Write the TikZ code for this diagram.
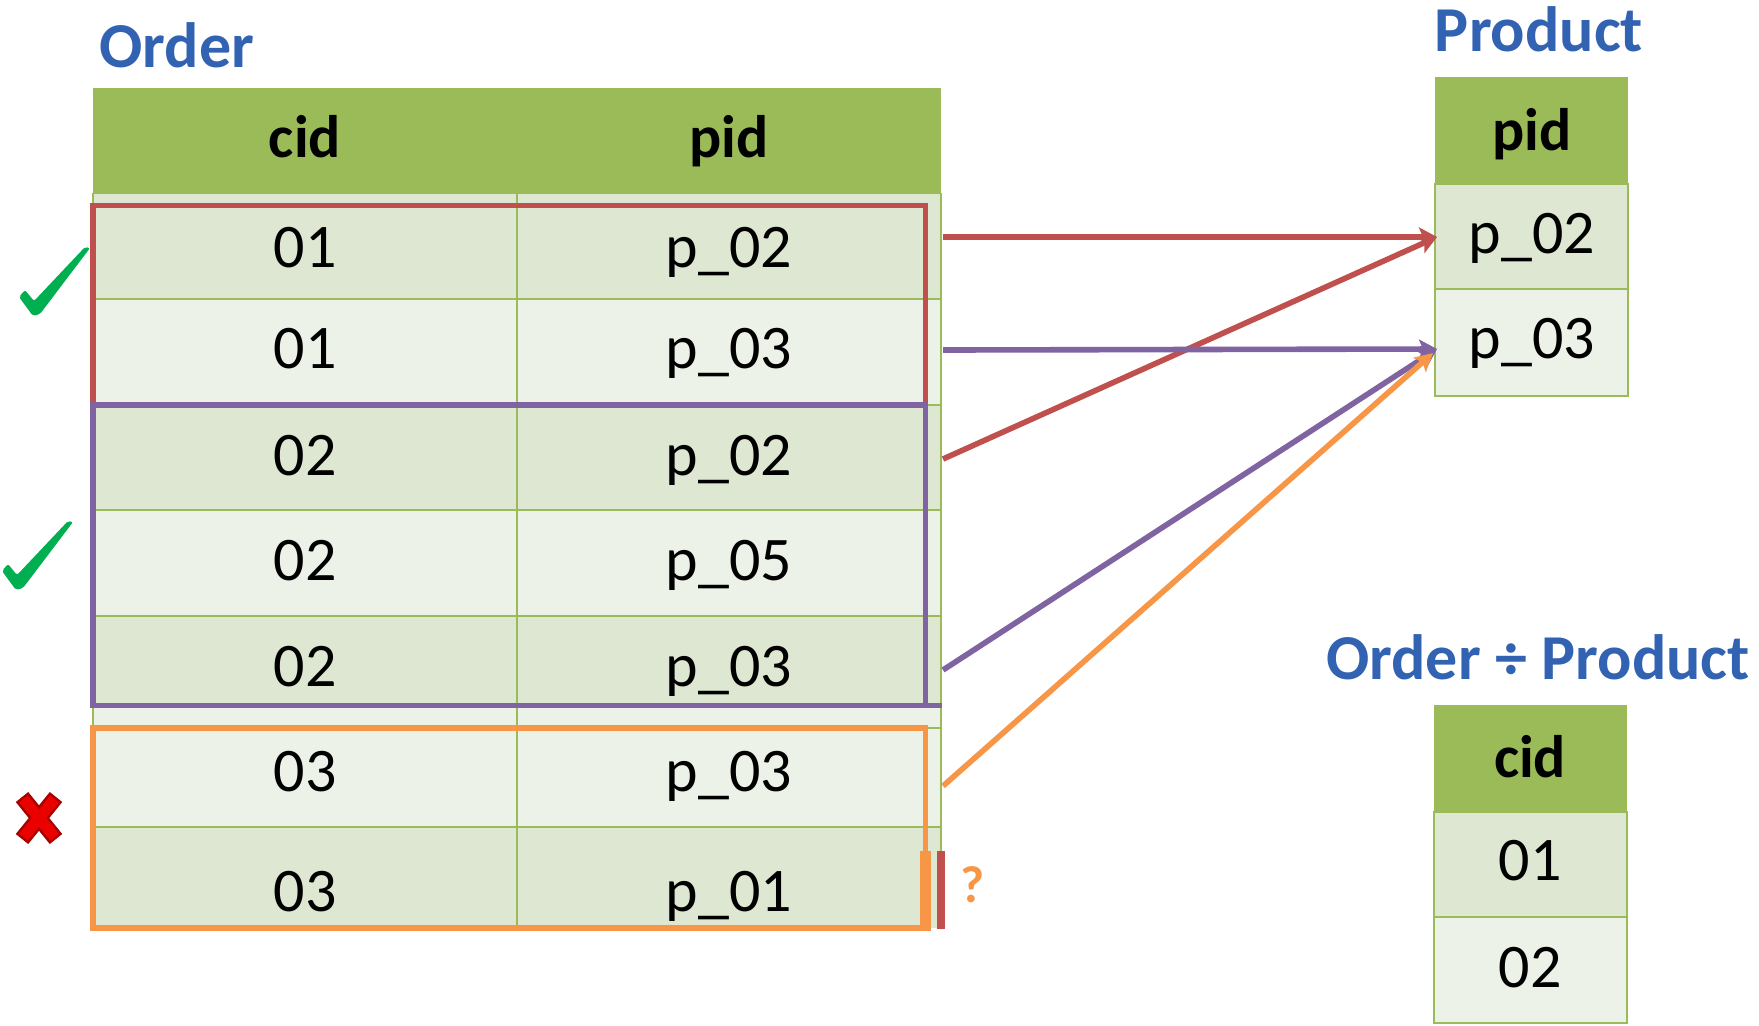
\documentclass[tikz,border=0pt]{standalone}
\usepackage{fontspec}
\setmainfont{Carlito}
\usetikzlibrary{arrows.meta}
\definecolor{hdgreen}{RGB}{155,187,89}
\definecolor{rowdark}{RGB}{222,231,209}
\definecolor{rowlight}{RGB}{237,242,232}
\definecolor{boxred}{RGB}{192,80,77}
\definecolor{boxpurple}{RGB}{128,100,162}
\definecolor{boxorange}{RGB}{247,150,70}
\definecolor{titleblue}{RGB}{50,98,178}
\definecolor{tickgreen}{RGB}{0,176,80}
\definecolor{crossred}{RGB}{235,0,0}
\definecolor{crossdark}{RGB}{170,0,0}
\tikzset{
  cell/.style={font=\fontsize{31}{31}\selectfont, anchor=base, inner sep=0pt},
  head/.style={font=\fontsize{30}{30}\selectfont\bfseries, anchor=base, inner sep=0pt},
  title/.style={font=\fontsize{32}{32}\selectfont\bfseries, text=titleblue, anchor=base, inner sep=0pt},
  grid/.style={hdgreen, line width=1.35pt},
  groupbox/.style={line width=2.8pt},
  link/.style={line width=2.8pt, -{Stealth[length=9pt, width=9.5pt, inset=2pt]}},
}
\begin{document}
\begin{tikzpicture} [x=.5pt, y=-.5pt]
\useasboundingbox (0,0) rectangle (1759,1025);
% Order table
\node[title] (tOrder) at (177,67) {Order};
\fill[hdgreen] (93,88) rectangle (941,193);
\foreach \t/\b/\c in {193/299/rowdark, 299/405/rowlight, 405/510/rowdark, 510/616/rowlight, 616/706/rowdark, 706/827/rowlight, 827/928/rowdark} {
 \fill[\c] (93,\t) rectangle (941,\b);
}
\foreach \y in {193, 299, 405, 510, 616, 706, 728, 827} {
 \draw[grid] (93,\y) -- (941,\y);
}
\draw[grid] (93,193) -- (93,928) (517,193) -- (517,928) (941,193) -- (941,851);
\node[head] (hcid) at (305,157) {cid};
\node[head] (hpid) at (729,157) {pid};
\foreach \c/\p/\y [count=\i] in {01/p\_02/267, 01/p\_03/368, 02/p\_02/475, 02/p\_05/580, 02/p\_03/686, 03/p\_03/791, 03/p\_01/911} {
 \node[cell] (oc\i) at (305,\y) {\c};
 \node[cell] (op\i) at (729,\y) {\p};
}
% groups per cid
\draw[groupbox, boxred] (93,205.5) rectangle (925.5,405);
\draw[groupbox, boxpurple] (93,405) rectangle (925.5,705.5) (925.5,705.5) -- (942,705.5);
\draw[groupbox, boxorange] (93,728) rectangle (925.5,928);
\fill[boxorange] (920,851) rectangle (931,931);
\fill[boxred] (937,851) rectangle (945,929);
\node[font=\fontsize{26}{26}\selectfont\bfseries, text=boxorange, anchor=base, inner sep=0pt] (qmark) at (973,902) {?};
% ticks and cross
\foreach \dx/\dy [count=\i] in {0/0, -17/274} {
 \fill[tickgreen, rounded corners=1pt, shift={(\dx,\dy)}] (19,297) -- (25,290) -- (34,301) -- (85,247) -- (90,248) -- (40,314) -- (33,316) -- cycle;
}
\draw[crossdark, line width=8pt] (22,797) -- (56,839) (56,797) -- (22,839);
\draw[crossred, line width=5.5pt] (23.5,799) -- (54.5,837) (54.5,799) -- (23.5,837);
% Product table
\node[title] (tProduct) at (1539,51) {Product};
\fill[hdgreen] (1435,77) rectangle (1628,184);
\fill[rowdark] (1435,184) rectangle (1628,289);
\fill[rowlight] (1435,289) rectangle (1628,396);
\draw[grid] (1435,184) rectangle (1628,396) (1435,289) -- (1628,289);
\node[head] (ppid) at (1532,150) {pid};
\node[cell] (pp1) at (1532,253) {p\_02};
\node[cell] (pp2) at (1532,358) {p\_03};
% Order / Product
\node[title] (tResult) at (1538,679) {Order ÷ Product};
\fill[hdgreen] (1434,705) rectangle (1627,812);
\fill[rowdark] (1434,812) rectangle (1627,917);
\fill[rowlight] (1434,917) rectangle (1627,1023);
\draw[grid] (1434,812) rectangle (1627,1023) (1434,917) -- (1627,917);
\node[head] (rcid) at (1530,777) {cid};
\node[cell] (rc1) at (1530,880) {01};
\node[cell] (rc2) at (1530,987) {02};
% links
\coordinate (s1) at (943,237);
\coordinate (s2) at (943,350);
\coordinate (s3) at (943,459);
\coordinate (s5) at (943,670);
\coordinate (s6) at (943,786);
\coordinate (e02) at (1437,237);
\coordinate (e03) at (1437,349);
\coordinate (e03b) at (1433,353);
\draw[link, boxred] (s1) -- (e02);
\draw[link, boxred] (s3) -- (e02);
\draw[link, boxpurple] (s2) -- (e03);
\draw[link, boxpurple] (s5) -- (e03);
\draw[link, boxorange] (s6) -- (e03b);
\end{tikzpicture}
\end{document}
